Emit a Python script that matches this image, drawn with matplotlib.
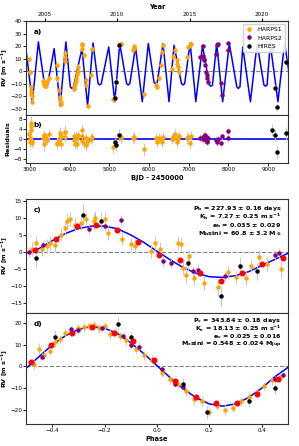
import matplotlib
matplotlib.use("Agg")
import matplotlib.pyplot as plt

# ---------------- time series (BJD - 2450000) ----------------
h1_t = [2976, 2990, 3001, 3018, 3027, 3035, 3045, 3060, 3340, 3350, 3365, 3390,
        3410, 3440, 3490, 3676, 3693, 3740, 3761, 3768, 3775, 3785, 3870, 3880,
        3890, 4100, 4115, 4130, 4150, 4170, 4185, 4200, 4215, 4300, 4310, 4320,
        4350, 4400, 4410, 4455, 4530, 4570, 5100, 5290, 5300, 5600, 5620, 5630,
        5870, 6166, 6208, 6250, 6292, 6334, 6351, 6588, 6613, 6647, 6697, 6714,
        6731, 6756, 6967, 6993, 7035, 7052]
h1_rv = [9.3, -0.8, -0.5, -13.0, -15.5, -18.0, -20.0, -24.5, -7.5, -10.0, -11.0, -12.0,
         -11.5, -8.0, -5.5, 4.8, -5.8, -15.0, -20.5, -24.0, -26.5, -25.0, 8.0, 14.5,
         11.5, -13.0, -14.0, -10.5, -8.0, -5.5, -2.5, 0.5, 3.5, 18.0, 20.5, 21.5,
         12.7, -7.0, -11.0, -27.5, -3.0, 18.0, -22.0, 22.0, 21.5, 16.5, 18.5, 20.0,
         -18.0, -11.0, -13.0, -5.8, 4.8, 15.3, 20.6, 2.1, 11.4, 16.7, 8.7, 6.0,
         3.4, -0.5, 11.4, 19.3, 21.2, 22.0]
h1_res = [2.0, -1.0, 0.5, 6.5, 5.0, 3.6, -1.5, -0.8, 0.5, -2.1, 1.5, 0.6,
          0.2, -0.3, 1.8, -1.5, -1.8, -0.5, 0.4, 2.3, -1.8, 1.0, 2.9, 0.9,
          2.9, -0.3, 1.0, -1.8, 1.2, 0.2, -2.0, 0.6, 1.4, 3.6, 1.0, -0.6,
          -1.5, -2.4, 0.4, -0.7, 0.0, 0.6, -3.0, 0.7, 0.3, 0.5, 0.9, 0.3,
          -4.1, 0.2, -1.0, 0.5, 0.0, -1.1, 0.6, 0.1, 0.7, 2.0, -0.4, -1.0,
          0.3, 1.0, 0.2, 0.8, -1.7, 1.2]
h1_err = [2.0, 2.0, 2.0, 2.5, 2.5, 2.0, 2.0, 2.0, 2.0, 2.5, 2.0, 2.0,
          2.0, 2.0, 2.0, 2.0, 2.5, 2.0, 2.0, 2.5, 2.0, 2.0, 2.5, 2.0,
          2.0, 2.0, 2.0, 2.0, 2.0, 2.0, 2.0, 2.0, 2.0, 2.0, 2.0, 2.0,
          2.0, 2.5, 2.0, 2.0, 2.0, 2.0, 2.5, 2.0, 2.0, 2.0, 2.0, 2.0,
          2.5, 2.0, 2.0, 2.0, 2.0, 2.0, 2.0, 2.0, 2.0, 2.0, 2.0, 2.0,
          2.0, 2.0, 2.0, 2.0, 2.0, 2.0]

h2_t = [7288, 7347, 7350, 7372, 7389, 7406, 7431, 7448, 7457, 7473, 7685, 7701,
        7727, 7811, 7836, 7997, 8000]
h2_rv = [11.4, 11.9, 19.8, 10.0, 8.7, 4.8, -0.5, -3.2, -5.8, -8.5, 14.0, 20.6,
         22.0, -9.3, -19.0, 22.5, 16.7]
h2_res = [0.3, -0.1, 0.6, 1.2, 0.0, 1.5, 0.6, -1.1, -0.6, 0.3, -0.4, -1.1,
          0.0, -1.5, 1.0, 3.3, 0.5]
h2_err = [1.5, 1.5, 1.5, 1.5, 1.5, 1.5, 1.5, 1.5, 1.5, 1.5, 1.5, 1.5,
          1.5, 1.5, 1.5, 1.5, 1.5]

hi_t = [5153, 5178, 5238, 9094, 9178, 9229, 9457]
hi_rv = [-21.7, -8.5, 20.6, 18.0, -13.2, -28.8, 6.9]
hi_res = [-1.0, -2.4, 1.6, 3.6, 1.6, -5.3, 2.3]
hi_err = [2.5, 2.5, 2.5, 2.5, 2.5, 2.5, 2.5]

# two-planet model, turning points
mod_t = [2900, 3060, 3212, 3366, 3406, 3446, 3609, 3761, 3905, 4017, 4057, 4097,
         4310, 4452, 4588, 4716, 4756, 4796, 4984, 5136, 5262, 5435, 5475, 5515,
         5659, 5829, 5981, 6126, 6166, 6206, 6351, 6503, 6629, 6817, 6857, 6897,
         7034, 7178, 7347, 7518, 7558, 7598, 7703, 7854, 8022, 8210, 8250, 8290,
         8361, 8553, 8722, 8893, 8933, 8973, 9052, 9247, 9414, 9540]
mod_rv = [17.0, -24.4, 23.3, -10.5, -11.9, -10.5, 18.0, -27.8, 23.3, -12.5, -13.8, -12.5,
          18.0, -27.8, 22.5, -10.0, -11.0, -10.0, 19.3, -24.4, 22.0, -10.0, -11.0, -10.0,
          19.3, -24.4, 22.0, -9.0, -10.0, -9.0, 22.0, -24.4, 20.6, -10.0, -11.0, -10.0,
          22.5, -24.4, 20.6, -11.0, -12.0, -11.0, 22.0, -24.4, 22.0, -12.5, -13.8, -12.5,
          19.3, -24.4, 22.0, -11.0, -12.0, -11.0, 22.0, -24.4, 22.5, -4.5]

# ---------------- phase-folded, planet b ----------------
cb_h1_ph = [-0.479, -0.463, -0.44, -0.42, -0.41, -0.39, -0.365, -0.353, -0.342, -0.333,
            -0.314, -0.29, -0.27, -0.24, -0.235, -0.2, -0.187, -0.135, -0.1, -0.085,
            -0.021, -0.009, 0.01, 0.08, 0.093, 0.1, 0.11, 0.122, 0.143, 0.18,
            0.233, 0.27, 0.3, 0.341, 0.36, 0.39, 0.42, 0.474]
cb_h1_rv = [0.9, 2.6, 0.9, 1.7, 2.6, 2.0, 5.1, 7.1, 9.0, 9.7,
            8.0, 8.5, 9.6, 9.0, 10.0, 9.7, 5.6, 3.9, 2.2, 1.7,
            0.2, 2.6, 0.9, 2.6, 2.2, -4.7, -6.7, -1.3, -7.6, -9.1,
            -10.4, -6.0, -7.5, -7.6, -4.0, -1.5, -3.5, -5.1]
cb_h1_err = [2.0, 2.0, 2.0, 2.0, 2.0, 2.0, 2.0, 2.0, 2.5, 2.0,
             2.0, 2.0, 2.0, 2.5, 2.0, 2.0, 2.0, 2.0, 2.0, 2.0,
             2.0, 2.0, 2.0, 2.0, 2.0, 2.0, 2.5, 2.0, 2.0, 2.0,
             2.5, 2.0, 2.0, 2.0, 2.0, 2.0, 2.0, 2.5]
cb_h2_ph = [-0.49, -0.434, -0.26, -0.2, -0.138, 0.023, 0.054, 0.137, 0.156, 0.258, 0.45, 0.465]
cb_h2_rv = [-0.1, 1.9, 6.9, 7.7, 9.5, -2.7, -3.2, -5.7, -5.2, -7.2, -0.8, -0.3]
cb_h2_err = [1.5, 1.5, 1.5, 1.5, 1.5, 1.5, 1.5, 1.5, 1.5, 1.5, 1.5, 1.5]
cb_hi_ph = [-0.463, -0.282, -0.215, 0.12, 0.246, 0.316, 0.383]
cb_hi_rv = [-1.8, 11.0, 9.2, -3.2, -13.0, -4.1, -5.7]
cb_hi_err = [3.0, 3.0, 2.5, 2.5, 3.0, 2.5, 2.5]
cb_bin_ph = [-0.466, -0.386, -0.305, -0.231, -0.151, -0.072, 0.008, 0.087, 0.165,
             0.245, 0.324, 0.402, 0.48]
cb_bin_rv = [0.5, 3.9, 7.5, 7.8, 6.4, 3.0, -0.8, -2.5, -6.2, -8.6, -6.2, -3.7, -1.8]
cb_mod_ph = [-0.5, -0.45, -0.4, -0.35, -0.3, -0.25, -0.2, -0.15, -0.1, -0.05, 0.0,
             0.05, 0.1, 0.15, 0.2, 0.25, 0.3, 0.35, 0.4, 0.45, 0.5]
cb_mod_rv = [-0.4, 1.0, 3.3, 5.4, 6.9, 7.6, 7.6, 6.8, 5.0, 2.8, 0.2,
             -2.3, -4.6, -6.3, -7.3, -7.5, -7.0, -5.8, -4.0, -2.2, -0.4]

# ---------------- phase-folded, planet c ----------------
cc_h1_ph = [-0.47, -0.45, -0.43, -0.41, -0.39, -0.37, -0.35, -0.33, -0.3, -0.28,
            -0.26, -0.24, -0.22, -0.2, -0.18, -0.16, -0.14, -0.12, -0.1, -0.08,
            -0.05, -0.02, 0.02, 0.05, 0.08, 0.11, 0.14, 0.17, 0.2, 0.23,
            0.26, 0.29, 0.32, 0.35, 0.38, 0.41, 0.44, 0.47]
cc_h1_rv = [1.0, 8.0, 5.0, 7.0, 11.0, 12.5, 15.5, 16.0, 17.5, 18.0,
            18.5, 19.0, 17.5, 18.5, 15.0, 16.0, 14.0, 12.0, 10.0, 8.0,
            5.0, 3.0, -3.0, -6.0, -8.0, -11.5, -15.0, -16.0, -21.0, -18.0,
            -20.0, -19.0, -16.0, -14.0, -12.0, -9.0, -6.5, -5.0]
cc_h1_err = [2.0, 2.5, 2.0, 2.0, 2.0, 2.0, 2.0, 2.0, 2.0, 2.0,
             2.0, 2.0, 2.0, 2.0, 2.5, 2.0, 2.0, 2.0, 2.0, 2.0,
             2.0, 2.0, 2.0, 2.0, 2.0, 2.0, 2.5, 2.0, 2.0, 2.0,
             2.5, 2.0, 2.0, 2.0, 2.0, 2.0, 2.0, 2.0]
cc_h2_ph = [-0.44, -0.33, -0.3, -0.21, -0.13, -0.1, -0.07, 0.02, 0.07, 0.1, 0.45, 0.48]
cc_h2_rv = [4.5, 17.0, 16.5, 17.5, 14.0, 10.0, 9.0, -1.0, -8.0, -9.5, -6.0, -4.0]
cc_h2_err = [1.5, 1.5, 1.5, 1.5, 1.5, 1.5, 1.5, 1.5, 1.5, 1.5, 1.5, 1.5]
cc_hi_ph = [-0.39, -0.15, -0.1, 0.1, 0.19, 0.35, 0.45]
cc_hi_rv = [13.5, 19.5, 13.5, -8.0, -21.0, -16.0, -10.0]
cc_hi_err = [3.0, 3.0, 2.5, 2.5, 3.0, 2.5, 2.5]
cc_bin_ph = [-0.482, -0.405, -0.326, -0.247, -0.165, -0.09, -0.012, 0.07, 0.15,
             0.225, 0.305, 0.38, 0.46]
cc_bin_rv = [1.9, 9.9, 15.5, 18.0, 15.5, 11.5, 2.9, -6.6, -14.0, -17.0, -17.0, -12.8, -5.8]
cc_mod_ph = [-0.5, -0.45, -0.4, -0.35, -0.3, -0.25, -0.2, -0.15, -0.1, -0.05, 0.0,
             0.05, 0.1, 0.15, 0.2, 0.25, 0.3, 0.35, 0.4, 0.45, 0.5]
cc_mod_rv = [-1.0, 4.5, 9.8, 14.0, 17.0, 18.3, 17.5, 15.0, 10.8, 5.8, 0.3,
             -5.2, -10.3, -14.5, -17.3, -18.3, -17.3, -14.3, -10.0, -4.8, -0.5]

text_b = ["P$_\\mathbf{b}$ = 227.93 ± 0.16 days",
          "K$_\\mathbf{b}$ = 7.27 ± 0.25 m s$^{\\mathbf{-1}}$",
          "e$_\\mathbf{b}$ = 0.035 ± 0.029",
          "M$_\\mathbf{b}$sini = 60.8 ± 3.2 M$_\\oplus$"]
text_c = ["P$_\\mathbf{c}$ = 343.84 ± 0.18 days",
          "K$_\\mathbf{c}$ = 18.13 ± 0.25 m s$^{\\mathbf{-1}}$",
          "e$_\\mathbf{c}$ = 0.025 ± 0.016",
          "M$_\\mathbf{c}$sini = 0.548 ± 0.024 M$_\\mathbf{Jup}$"]

C_H1 = "#ffa500"
C_H2 = "purple"
C_HI = "black"
ERRC = "#c8c8c8"
FS = 4.1

plt.rcParams["mathtext.default"] = "bf"
plt.rcParams["font.size"] = FS

W, H = 299, 446
fig = plt.figure(figsize=(W / 100, H / 100), dpi=100)


def box(left, top, right, bottom):
    return [left / W, 1 - bottom / H, (right - left) / W, (bottom - top) / H]


ax_a = fig.add_axes(box(26, 21, 288, 115))
ax_b = fig.add_axes(box(26, 115, 288, 163), sharex=ax_a)
ax_c = fig.add_axes(box(26, 199, 288, 313))
ax_d = fig.add_axes(box(26, 313, 288, 424), sharex=ax_c)


def pts(ax, x, y, e, c, label=None):
    ax.errorbar(x, y, yerr=e, fmt="o", ms=2.2, color=c, mec=c, ecolor=ERRC,
                elinewidth=0.8, capsize=0, label=label, zorder=3)


# panel a
ax_a.plot(mod_t, mod_rv, color="blue", lw=1.1, zorder=2)
ax_a.axhline(0, color="grey", ls="--", lw=0.8, zorder=1)
pts(ax_a, h1_t, h1_rv, h1_err, C_H1, "HARPS1")
pts(ax_a, h2_t, h2_rv, h2_err, C_H2, "HARPS2")
pts(ax_a, hi_t, hi_rv, hi_err, C_HI, "HIRES")
ax_a.set_xlim(2900, 9500)
ax_a.set_ylim(-35, 40)
ax_a.set_yticks([-30, -20, -10, 0, 10, 20, 30, 40])
ax_a.set_ylabel("RV [m s$^{-1}$]", fontweight="bold", fontsize=4.6)
ax_a.tick_params(labelbottom=False)
leg = ax_a.legend(loc="upper right", fontsize=4.5, handlelength=1.2,
                  borderpad=0.4, labelspacing=0.5, framealpha=0.9)

yr = ax_a.secondary_xaxis("top", functions=(lambda x: 2000 + (x - 1544.5) / 365.25,
                                             lambda y: (y - 2000) * 365.25 + 1544.5))
yr.set_xticks([2005, 2010, 2015, 2020])
yr.set_xlabel("Year", fontweight="bold", fontsize=4.8, labelpad=2)
yr.tick_params(labelsize=FS, length=2, pad=1)

# panel b
ax_b.axhline(0, color="blue", lw=1.2, zorder=2)
pts(ax_b, h1_t, h1_res, h1_err, C_H1)
pts(ax_b, h2_t, h2_res, h2_err, C_H2)
pts(ax_b, hi_t, hi_res, hi_err, C_HI)
ax_b.set_ylim(-9.5, 9.5)
ax_b.set_yticks([-8, -4, 0, 4, 8])
ax_b.set_ylabel("Residuals", fontweight="bold", fontsize=4.6)
ax_b.set_xlabel("BJD - 2450000", fontweight="bold", fontsize=4.8, labelpad=2)
ax_b.set_xticks([3000, 4000, 5000, 6000, 7000, 8000, 9000])

# panel c
ax_c.axhline(0, color="grey", ls="--", lw=0.8, zorder=1)
ax_c.plot(cb_mod_ph, cb_mod_rv, color="blue", lw=1.1, zorder=2)
pts(ax_c, cb_h1_ph, cb_h1_rv, cb_h1_err, C_H1)
pts(ax_c, cb_h2_ph, cb_h2_rv, cb_h2_err, C_H2)
pts(ax_c, cb_hi_ph, cb_hi_rv, cb_hi_err, C_HI)
ax_c.plot(cb_bin_ph, cb_bin_rv, "o", color="red", ms=3.3, zorder=4)
ax_c.set_ylim(-18, 15.6)
ax_c.set_yticks([-15, -10, -5, 0, 5, 10, 15])
ax_c.set_ylabel("RV [m s$^{-1}$]", fontweight="bold", fontsize=4.6)
ax_c.tick_params(labelbottom=False)
for i, s in enumerate(text_b):
    ax_c.text(0.975, 0.915 - i * 0.073, s, transform=ax_c.transAxes, ha="right",
              va="center", fontsize=4.6, fontweight="bold")

# panel d
ax_d.axhline(0, color="grey", ls="--", lw=0.8, zorder=1)
ax_d.plot(cc_mod_ph, cc_mod_rv, color="blue", lw=1.1, zorder=2)
pts(ax_d, cc_h1_ph, cc_h1_rv, cc_h1_err, C_H1)
pts(ax_d, cc_h2_ph, cc_h2_rv, cc_h2_err, C_H2)
pts(ax_d, cc_hi_ph, cc_hi_rv, cc_hi_err, C_HI)
ax_d.plot(cc_bin_ph, cc_bin_rv, "o", color="red", ms=3.3, zorder=4)
ax_d.set_xlim(-0.5, 0.5)
ax_d.set_ylim(-26.5, 24.5)
ax_d.set_yticks([-20, -10, 0, 10, 20])
ax_d.set_xticks([-0.4, -0.2, 0.0, 0.2, 0.4])
ax_d.set_ylabel("RV [m s$^{-1}$]", fontweight="bold", fontsize=4.6)
ax_d.set_xlabel("Phase", fontweight="bold", fontsize=4.8, labelpad=2)
for i, s in enumerate(text_c):
    ax_d.text(0.975, 0.935 - i * 0.075, s, transform=ax_d.transAxes, ha="right",
              va="center", fontsize=4.6, fontweight="bold")

for ax, lab, yy in [(ax_a, "a)", 0.88), (ax_b, "b)", 0.8), (ax_c, "c)", 0.9), (ax_d, "d)", 0.9)]:
    ax.text(0.03, yy, lab, transform=ax.transAxes, fontsize=5.2, fontweight="bold",
            va="center")
    ax.tick_params(labelsize=FS, length=2, width=0.6, pad=1)
    ax.yaxis.set_label_coords(-0.06, 0.5)
    for sp in ax.spines.values():
        sp.set_linewidth(0.8)
        sp.set_color("#333333")

fig.savefig("out.png", dpi=100)
